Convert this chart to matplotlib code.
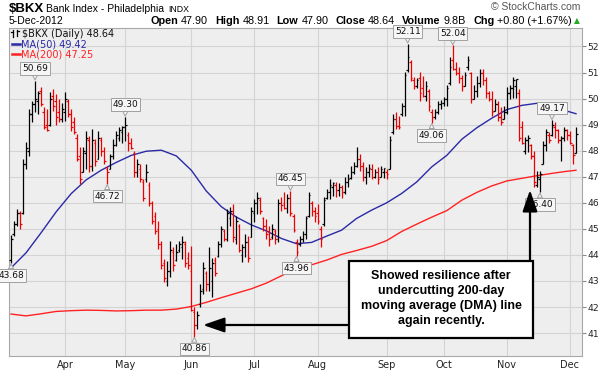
import numpy as np
import pandas as pd
import matplotlib
matplotlib.use("Agg")
import matplotlib.pyplot as plt
from matplotlib.patches import FancyArrowPatch, Rectangle
from matplotlib.lines import Line2D

# ---------------- data ----------------
symbol = "$BKX"
title_name = "Bank Index - Philadelphia"
exchange = "INDX"
last_date_label = "5-Dec-2012"
volume_label = "9.8B"
start_date = "2012-03-07"
end_date = "2012-12-05"
holidays = ["2012-04-06", "2012-05-28", "2012-07-04", "2012-09-03",
            "2012-10-29", "2012-10-30", "2012-11-22"]

opens = [43.80, 44.80, 45.20, 45.60, 45.60, 47.50, 48.00, 49.40, 49.80, 49.90,
         50.30, 49.50, 49.00, 49.00, 50.10, 49.90, 49.50, 49.20, 49.50, 49.90,
         49.40, 49.10, 48.50, 47.80, 47.20, 47.90, 48.40, 47.40, 48.30, 47.70,
         48.40, 48.00, 47.30, 47.30, 47.80, 48.20, 48.50, 48.70, 48.90, 48.60,
         48.30, 47.90, 47.20, 47.30, 46.80, 46.90, 46.70, 46.00, 45.50, 45.00,
         44.40, 43.70, 43.00, 43.40, 44.10, 43.80, 44.20, 44.30, 44.40, 43.90,
         43.40, 41.80, 41.30, 42.10, 42.70, 43.30, 42.90, 43.00, 43.80, 43.95,
         44.40, 44.90, 44.60, 45.40, 45.70, 44.60, 45.10, 44.00, 44.30, 44.50,
         44.70, 45.60, 46.00, 46.10, 45.40, 45.10, 44.90, 44.70, 44.90, 44.60,
         46.00, 46.00, 45.80, 46.20, 45.50, 44.50, 44.40, 44.60, 44.80, 45.50,
         46.00, 45.70, 45.60, 45.00, 45.20, 46.20, 46.40, 46.60, 46.70, 46.50,
         46.60, 46.40, 46.80, 46.95, 47.20, 47.40, 47.70, 47.40, 47.00, 47.20,
         47.30, 47.00, 47.20, 47.00, 47.20, 47.20, 47.30, 48.70, 49.20, 48.95,
         49.40, 49.70, 51.10, 51.40, 50.70, 50.50, 50.80, 50.40, 50.10, 50.30,
         49.50, 49.30, 49.50, 49.80, 49.85, 50.00, 50.60, 51.50, 51.15, 51.00,
         50.80, 50.50, 51.20, 51.00, 50.00, 50.30, 50.60, 51.00, 50.70, 50.20,
         50.00, 49.52, 49.80, 49.30, 49.20, 49.50, 50.20, 50.40, 50.50, 50.20,
         48.90, 48.00, 48.40, 48.20, 47.80, 46.70, 46.90, 47.50, 48.20, 48.60,
         48.60, 48.90, 48.80, 48.40, 48.50, 48.80, 48.60, 48.20, 47.90]

highs = [44.75, 45.30, 45.75, 45.68, 47.67, 48.32, 49.59, 49.90, 50.69, 50.28,
         50.43, 49.66, 49.60, 50.24, 50.35, 50.16, 49.97, 49.85, 50.24, 49.97,
         49.59, 49.28, 48.63, 48.13, 48.13, 48.74, 48.55, 48.82, 48.44, 48.74,
         48.51, 48.13, 47.40, 47.86, 48.44, 48.74, 48.90, 48.95, 49.30, 48.70,
         48.50, 47.98, 47.67, 47.48, 46.90, 47.48, 46.79, 46.06, 45.64, 45.30,
         44.53, 43.84, 43.76, 44.53, 44.30, 44.41, 44.53, 44.72, 44.53, 44.11,
         44.34, 42.00, 41.85, 42.88, 43.72, 43.38, 44.30, 43.90, 43.92, 44.53,
         45.10, 45.00, 45.75, 45.83, 45.95, 45.49, 45.18, 44.41, 44.80, 44.72,
         45.83, 46.14, 46.41, 46.21, 45.45, 45.37, 45.10, 45.18, 44.99, 46.14,
         46.21, 46.41, 46.35, 46.45, 45.56, 44.61, 44.72, 44.91, 45.49, 46.41,
         46.06, 45.83, 45.95, 45.10, 46.21, 46.52, 46.90, 46.79, 46.79, 46.75,
         46.70, 46.98, 47.10, 47.40, 47.56, 48.13, 47.86, 47.56, 47.36, 47.48,
         47.48, 47.30, 47.36, 47.40, 47.35, 47.30, 48.55, 49.40, 49.47, 49.35,
         49.85, 51.04, 52.11, 51.50, 50.81, 50.80, 51.04, 50.85, 50.66, 50.35,
         49.59, 49.60, 49.90, 49.95, 50.08, 50.54, 51.58, 52.04, 51.42, 51.20,
         50.90, 51.04, 51.62, 51.04, 50.54, 50.85, 51.12, 51.12, 50.81, 50.28,
         50.28, 49.97, 49.90, 49.66, 49.70, 50.43, 50.54, 50.81, 50.77, 50.35,
         49.13, 48.51, 48.60, 48.25, 47.98, 47.21, 47.21, 48.36, 48.82, 48.70,
         49.17, 49.10, 48.85, 48.55, 48.90, 48.85, 48.74, 48.25, 48.91]

lows = [43.68, 44.72, 45.10, 44.99, 45.56, 47.29, 47.79, 49.09, 49.47, 49.40,
        49.70, 48.82, 48.74, 48.93, 49.51, 49.00, 49.09, 49.09, 49.13, 49.28,
        48.74, 48.63, 47.60, 46.71, 47.17, 47.29, 47.17, 47.21, 47.40, 47.67,
        47.79, 47.48, 46.72, 47.29, 47.67, 48.17, 48.36, 48.30, 48.36, 47.98,
        48.05, 47.00, 47.00, 46.79, 46.06, 46.79, 45.87, 45.18, 44.80, 44.22,
        43.46, 42.96, 42.80, 43.15, 43.38, 43.76, 44.11, 43.84, 43.53, 43.46,
        41.85, 40.86, 41.16, 42.00, 42.50, 42.61, 42.60, 42.40, 43.19, 43.92,
        44.30, 44.53, 44.53, 45.10, 44.49, 44.41, 44.10, 43.72, 43.92, 43.72,
        44.68, 45.26, 45.56, 45.56, 44.91, 44.61, 44.34, 44.61, 44.41, 44.49,
        45.68, 45.75, 45.60, 45.49, 44.87, 43.96, 44.34, 44.49, 44.61, 45.45,
        45.49, 45.26, 45.18, 44.30, 45.10, 46.14, 46.14, 46.25, 46.21, 46.25,
        46.20, 46.35, 46.60, 46.90, 47.10, 47.36, 47.21, 46.83, 46.71, 46.98,
        46.90, 46.95, 46.71, 47.00, 46.95, 46.90, 47.29, 48.63, 48.82, 48.85,
        49.32, 49.32, 51.04, 50.66, 50.35, 50.40, 49.90, 50.05, 49.90, 49.51,
        49.06, 49.20, 49.40, 49.60, 49.70, 49.70, 50.54, 51.10, 50.90, 50.60,
        50.30, 50.50, 51.10, 49.85, 49.97, 50.08, 50.43, 50.54, 50.04, 49.90,
        49.32, 49.51, 49.13, 49.00, 49.20, 49.40, 49.97, 50.04, 50.04, 48.36,
        48.25, 47.86, 47.95, 47.67, 46.60, 46.60, 46.40, 47.48, 47.98, 48.30,
        48.55, 48.50, 48.30, 47.60, 48.36, 48.40, 48.25, 47.48, 47.90]

closes = [44.60, 45.20, 45.60, 45.20, 47.50, 48.10, 49.40, 49.80, 50.00, 50.20,
          49.80, 48.90, 48.80, 50.00, 49.70, 49.30, 49.20, 49.60, 50.00, 49.40,
          48.90, 48.70, 47.70, 46.90, 48.00, 48.50, 47.40, 48.40, 47.60, 48.50,
          48.00, 47.60, 47.20, 47.80, 48.20, 48.60, 48.80, 48.90, 49.00, 48.30,
          48.10, 47.20, 47.50, 46.90, 46.20, 47.20, 46.00, 45.30, 44.90, 44.40,
          43.60, 43.10, 43.40, 44.20, 43.60, 44.10, 44.40, 44.50, 43.70, 43.60,
          41.90, 41.30, 41.70, 42.60, 43.50, 42.90, 43.50, 43.70, 43.30, 44.40,
          45.00, 44.60, 45.60, 45.70, 44.70, 45.30, 44.20, 44.30, 44.50, 43.90,
          45.70, 46.00, 46.20, 45.70, 45.10, 44.80, 44.60, 45.00, 44.60, 46.00,
          45.90, 45.80, 46.20, 45.60, 44.95, 44.10, 44.60, 44.80, 45.40, 46.30,
          45.70, 45.50, 45.30, 44.60, 46.10, 46.40, 46.70, 46.75, 46.50, 46.60,
          46.40, 46.80, 46.90, 47.20, 47.40, 47.70, 47.40, 47.00, 47.20, 47.35,
          47.00, 47.20, 46.90, 47.30, 47.33, 47.10, 48.40, 49.20, 48.95, 48.90,
          49.70, 50.90, 51.60, 50.80, 50.50, 50.70, 50.20, 50.10, 50.50, 49.70,
          49.30, 49.50, 49.80, 49.85, 50.00, 50.40, 51.20, 51.15, 51.00, 50.80,
          50.50, 50.90, 51.50, 50.00, 50.30, 50.60, 51.00, 50.70, 50.20, 50.00,
          49.50, 49.80, 49.30, 49.10, 49.50, 50.20, 50.40, 50.70, 50.75, 48.50,
          48.30, 48.40, 48.50, 47.80, 46.80, 47.00, 47.10, 48.20, 48.70, 48.40,
          49.00, 48.80, 48.40, 48.50, 48.80, 48.60, 48.30, 47.84, 48.64]

# moving averages read every 5th trading day (plus last day)
ma_step = 5
ma50_values = [43.50, 44.08, 44.85, 45.65, 46.35, 46.88, 47.25, 47.55, 47.82, 47.98,
               48.02, 47.80, 47.25, 46.45, 45.85, 45.45, 45.15, 44.92, 44.63, 44.43,
               44.48, 44.72, 44.95, 45.40, 45.72, 46.00, 46.36, 46.80, 47.38, 47.82,
               48.44, 48.88, 49.25, 49.58, 49.74, 49.82, 49.73, 49.52, 49.42]
ma200_values = [41.73, 41.66, 41.74, 41.83, 41.86, 41.88, 41.87, 41.85, 41.86, 41.88,
                41.88, 41.92, 42.02, 42.18, 42.36, 42.53, 42.70, 42.92, 43.20, 43.48,
                43.62, 43.80, 44.02, 44.17, 44.33, 44.55, 44.90, 45.18, 45.45, 45.70,
                46.10, 46.40, 46.65, 46.84, 46.94, 47.04, 47.13, 47.21, 47.25]

label_high_idx = [8, 38, 93, 132, 147, 180]
label_low_idx = [0, 32, 61, 95, 140, 176]
month_names = ["Apr", "May", "Jun", "Jul", "Aug", "Sep", "Oct", "Nov", "Dec"]
month_numbers = [4, 5, 6, 7, 8, 9, 10, 11, 12]
y_ticks = [41, 42, 43, 44, 45, 46, 47, 48, 49, 50, 51, 52]
note_text = "Showed resilience after\nundercutting 200-day\nmoving average (DMA) line\nagain recently."

# ---------------- figure ----------------
W, H = 599, 373
fig = plt.figure(figsize=(W / 100, H / 100), dpi=100)
fig.patch.set_facecolor("white")


def fx(px):
    return px / W


def fy(py):
    return 1 - py / H


ax_l, ax_r, ax_t, ax_b = 9, 582, 28, 356
ax = fig.add_axes([fx(ax_l), fy(ax_b), (ax_r - ax_l) / W, (ax_b - ax_t) / H])
ax.set_facecolor("#EEEEEE")

dates = pd.bdate_range(start_date, end_date)
dates = dates[~dates.isin(pd.to_datetime(holidays))]
n = len(closes)
idx = np.arange(n)

# month gridlines / ticks
month_pos = []
for m in month_numbers:
    sel = np.where(dates.month == m)[0]
    month_pos.append(int(sel[0]))

ax.set_xlim(-0.67, 190.0)
ax.set_ylim(40.12, 52.71)
ax.set_xticks(month_pos)
ax.set_xticklabels(month_names, fontsize=7, color="#222222")
ax.set_yticks(y_ticks)
ax.yaxis.tick_right()
ax.tick_params(axis="y", labelsize=6.6, length=3, color="#888888", labelcolor="#222222", pad=1)
ax.tick_params(axis="x", length=0, pad=3)
ax.grid(True, color="#D4D4D4", linewidth=0.8)
ax.set_axisbelow(True)
for s in ax.spines.values():
    s.set_color("#A8A8A8")
    s.set_linewidth(0.8)

# moving averages
ma_x = list(range(0, n, ma_step)) + [n - 1]
ax.plot(ma_x, ma200_values, color="#FF2222", lw=1.0, zorder=2)
ax.plot(ma_x, ma50_values, color="#2A2AA6", lw=1.0, zorder=2)

# OHLC bars
prev = [opens[0]] + closes[:-1]
colors = ["#000000" if c >= p else "#EE0000" for c, p in zip(closes, prev)]
tick = 0.55
ax.vlines(idx, lows, highs, colors=colors, lw=0.9, zorder=3)
ax.hlines(opens, idx - tick, idx, colors=colors, lw=0.9, zorder=3)
ax.hlines(closes, idx, idx + tick, colors=colors, lw=0.9, zorder=3)

# callout labels
box_kw = dict(boxstyle="square,pad=0.2", fc="#F6F6F6", ec="#A0A0A0", lw=0.7)
arr_kw = dict(arrowstyle="wedge,tail_width=0.55,shrink_factor=0.5", fc="#F6F6F6",
              ec="#A0A0A0", lw=0.7, shrinkA=0, shrinkB=0.5)
for i in label_high_idx:
    ax.annotate(f"{highs[i]:.2f}", xy=(i, highs[i]), xytext=(0, 5.5), textcoords="offset points",
                ha="center", va="bottom", fontsize=6.5, color="#111111", bbox=box_kw,
                arrowprops=arr_kw, annotation_clip=False, zorder=4)
for i in label_low_idx:
    ax.annotate(f"{lows[i]:.2f}", xy=(i, lows[i]), xytext=(0, -5.5), textcoords="offset points",
                ha="center", va="top", fontsize=6.5, color="#111111", bbox=box_kw,
                arrowprops=arr_kw, annotation_clip=False, zorder=4)

# note box and arrows
bx0, bx1 = (349 - ax_l) / (ax_r - ax_l), (533 - ax_l) / (ax_r - ax_l)
by0, by1 = (ax_b - 338) / (ax_b - ax_t), (ax_b - 261) / (ax_b - ax_t)
ax.add_patch(Rectangle((bx0, by0), bx1 - bx0, by1 - by0, transform=ax.transAxes,
                       fc="white", ec="black", lw=1.6, zorder=6, clip_on=False))
ax.text((bx0 + bx1) / 2, (by0 + by1) / 2 + 0.003, note_text, transform=ax.transAxes,
        ha="center", va="center", fontsize=9, fontweight="bold", family="Liberation Sans",
        linespacing=1.3, zorder=7)
arr_y = (ax_b - 325) / (ax_b - ax_t)
tip1_x = (203 - ax_l) / (ax_r - ax_l)
ax.add_patch(FancyArrowPatch((bx0, arr_y), (tip1_x, arr_y), transform=ax.transAxes,
                             arrowstyle="-|>,head_length=1.3,head_width=0.45", mutation_scale=10,
                             color="black", lw=1.6, zorder=6, shrinkA=0, shrinkB=0))
arr_x = (530 - ax_l) / (ax_r - ax_l)
tip2_y = (ax_b - 190) / (ax_b - ax_t)
ax.add_patch(FancyArrowPatch((arr_x, by1), (arr_x, tip2_y), transform=ax.transAxes,
                             arrowstyle="-|>,head_length=1.3,head_width=0.45", mutation_scale=10,
                             color="black", lw=1.6, zorder=6, shrinkA=0, shrinkB=0))

# in-chart legend
fig.add_artist(Line2D([fx(13), fx(13)], [fy(30), fy(37)], color="black", lw=0.9))
fig.add_artist(Line2D([fx(11), fx(13)], [fy(32), fy(32)], color="black", lw=0.9))
fig.add_artist(Line2D([fx(17), fx(17)], [fy(29.5), fy(36)], color="black", lw=0.9))
fig.add_artist(Line2D([fx(17), fx(19)], [fy(31), fy(31)], color="black", lw=0.9))
fig.text(fx(22), fy(37), f"{symbol} (Daily) {closes[-1]:.2f}", fontsize=7, color="#111111", va="baseline")
fig.add_artist(Line2D([fx(12), fx(20)], [fy(44), fy(44)], color="#2A2AA6", lw=1.8))
fig.text(fx(21), fy(47.5), f"MA(50) {ma50_values[-1]:.2f}", fontsize=7, color="#2A2AA6", va="baseline")
fig.add_artist(Line2D([fx(12), fx(20)], [fy(54), fy(54)], color="#FF2222", lw=1.8))
fig.text(fx(21), fy(57.5), f"MA(200) {ma200_values[-1]:.2f}", fontsize=7, color="#FF2222", va="baseline")

# header
hf = "Liberation Sans"
renderer = fig.canvas.get_renderer()
fig.text(fx(9), fy(12), symbol, fontsize=9.5, fontweight="bold", family=hf, va="baseline")
t_title = fig.text(fx(46), fy(12), title_name, fontsize=7.5, family=hf, va="baseline")
tw = t_title.get_window_extent(renderer).width
fig.text(fx(46 + tw + 4), fy(12), exchange, fontsize=6.3, family=hf, va="baseline")
fig.text(fx(9), fy(24), last_date_label, fontsize=7.5, family=hf, va="baseline")
fig.text(fx(580), fy(10.5), "\u00a9 StockCharts.com", fontsize=7.5, family=hf, color="#555555",
         ha="right", va="baseline")

chg = closes[-1] - closes[-2]
pct = chg / closes[-2] * 100
segments = [("Open", True), (f"{opens[-1]:.2f}", False), ("High", True), (f"{highs[-1]:.2f}", False),
            ("Low", True), (f"{lows[-1]:.2f}", False), ("Close", True), (f"{closes[-1]:.2f}", False),
            ("Volume", True), (volume_label, False), ("Chg", True), (f"{chg:+.2f} ({pct:+.2f}%)", False)]
widths = []
for s, b in segments:
    t = fig.text(0, 0, s, fontsize=7.8, family=hf, fontweight="bold" if b else "normal")
    widths.append(t.get_window_extent(renderer).width)
    t.remove()
gaps = [3 if b else 7 for s, b in segments]
total = sum(widths) + sum(gaps[:-1])
x = 572 - total
for (s, b), w, g in zip(segments, widths, gaps):
    fig.text(fx(x), fy(24), s, fontsize=7.8, family=hf, fontweight="bold" if b else "normal",
             va="baseline")
    x += w + g
fig.text(fx(574), fy(23.5), "\u25b2", fontsize=5.5, color="#22AA22", va="baseline")

fig.savefig("out.png", dpi=100, facecolor="white")
